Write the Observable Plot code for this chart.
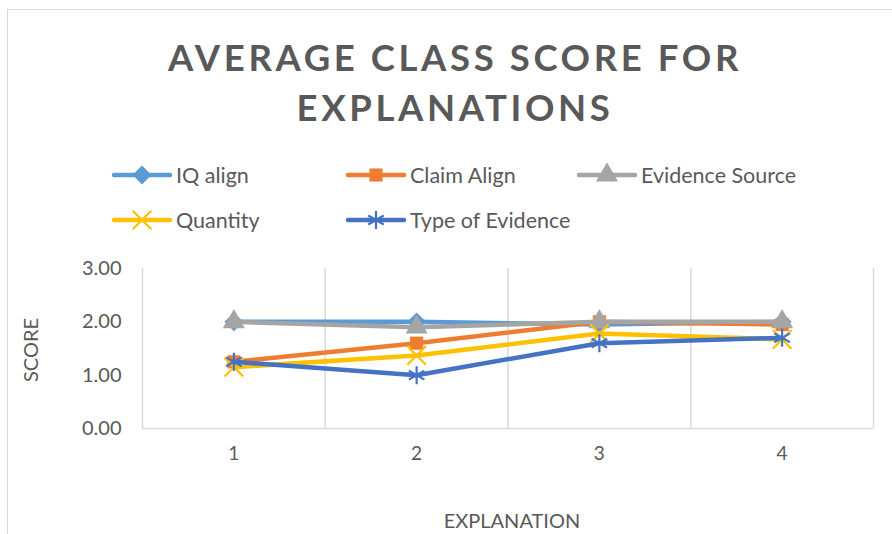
<!DOCTYPE html>
<html>
<head>
<meta charset="utf-8">
<script src="https://cdn.jsdelivr.net/npm/d3@7"></script>
<script src="https://cdn.jsdelivr.net/npm/@observablehq/plot@0.6"></script>
<style>
  html, body { margin: 0; padding: 0; background: #fff; }
  body { width: 892px; height: 534px; position: relative; overflow: hidden; font-family: Lato, "Open Sans", sans-serif; color: #595959; }
  #border { position: absolute; left: 7px; top: 9px; width: 900px; height: 540px; border-top: 1.5px solid #d9d9d9; border-left: 1.5px solid #d9d9d9; }
  #title { position: absolute; left: 0; width: 910px; top: 32px; text-align: center; font-size: 36.5px; font-weight: bold; letter-spacing: 3.6px; line-height: 50px; color: #595959; }
  .leg { position: absolute; display: flex; align-items: center; font-size: 21.5px; color: #595959; white-space: nowrap; }
  .leg svg { margin-right: 3px; }
  #ylab { position: absolute; left: 30px; top: 350px; transform: translate(-50%, -50%) rotate(-90deg); font-size: 20px; }
  #xlab { position: absolute; left: 512px; top: 520px; transform: translate(-50%, -50%); font-size: 20px; }
  #chart { position: absolute; left: 0; top: 240px; }
</style>
</head>
<body>
<div id="border"></div>
<div id="title">AVERAGE CLASS SCORE FOR<br>EXPLANATIONS</div>
<div id="legend"></div>
<div id="ylab">SCORE</div>
<div id="xlab">EXPLANATION</div>
<div id="chart"></div>
<script>
// Data
const explanations = [1, 2, 3, 4];
const seriesNames = ["IQ align", "Claim Align", "Evidence Source", "Quantity", "Type of Evidence"];
const iqAlign = [2.00, 2.00, 1.95, 2.00];
const claimAlign = [1.25, 1.60, 2.00, 1.95];
const evidenceSource = [2.00, 1.90, 2.00, 2.00];
const quantity = [1.15, 1.37, 1.78, 1.67];
const typeOfEvidence = [1.25, 1.00, 1.60, 1.70];
const yTicks = [0, 1, 2, 3];

const seriesValues = [iqAlign, claimAlign, evidenceSource, quantity, typeOfEvidence];
const colors = ["#5B9BD5", "#ED7D31", "#A5A5A5", "#FFC000", "#4472C4"];
const symbols = ["diamond2", "square", "triangle", "times", "asterisk"];
const filled = [true, true, true, false, false];
const symR = [8.5, 7.4, 8.2, 8.5, 8.5];

const rows = seriesNames.flatMap((s, i) =>
  explanations.map((e, j) => ({series: s, explanation: e, score: seriesValues[i][j]}))
);

// Band boundaries for vertical gridlines
const boundaries = [explanations[0] - 0.5, ...explanations.map(e => e + 0.5)];

const marks = [
  Plot.ruleX(boundaries, {stroke: "#d9d9d9", strokeWidth: 1.5}),
  Plot.ruleY([0], {stroke: "#d9d9d9", strokeWidth: 1.5}),
  Plot.axisY({ticks: yTicks, tickFormat: d3.format(".2f"), tickSize: 0, tickPadding: 21, fontSize: 20, label: null}),
  Plot.axisX({ticks: explanations, tickFormat: d => String(d), tickSize: 0, tickPadding: 18, fontSize: 19, label: null})
];
seriesNames.forEach((s, i) => {
  const d = rows.filter(r => r.series === s);
  marks.push(Plot.line(d, {x: "explanation", y: "score", stroke: colors[i], strokeWidth: 4.5, strokeLinejoin: "round", strokeLinecap: "round"}));
  marks.push(Plot.dot(d, filled[i]
    ? {x: "explanation", y: "score", symbol: symbols[i], fill: colors[i], stroke: "none", r: symR[i]}
    : {x: "explanation", y: "score", symbol: symbols[i], stroke: colors[i], strokeWidth: 2.2, fill: "none", r: symR[i]}));
});

const chart = Plot.plot({
  width: 892,
  height: 294,
  marginLeft: 142,
  marginRight: 19,
  marginTop: 28,
  marginBottom: 106,
  style: {fontFamily: "Lato, 'Open Sans', sans-serif", color: "#595959", background: "transparent"},
  x: {type: "linear", domain: [boundaries[0], boundaries[boundaries.length - 1]]},
  y: {domain: [yTicks[0], yTicks[yTicks.length - 1]]},
  marks
});
document.getElementById("chart").appendChild(chart);

// Legend
const legPos = [
  {left: 111, top: 175}, {left: 345, top: 175}, {left: 576, top: 175},
  {left: 111, top: 220}, {left: 345, top: 220}
];
const symMap = {diamond2: d3.symbolDiamond2, square: d3.symbolSquare, triangle: d3.symbolTriangle, times: d3.symbolTimes, asterisk: d3.symbolAsterisk};
const legend = document.getElementById("legend");
seriesNames.forEach((s, i) => {
  const item = document.createElement("div");
  item.className = "leg";
  item.style.left = legPos[i].left + "px";
  item.style.top = (legPos[i].top - 14) + "px";
  item.style.height = "28px";
  const w = 62, h = 24;
  const path = d3.symbol(symMap[symbols[i]], Math.PI * symR[i] * symR[i])();
  const fillAttr = filled[i] ? `fill="${colors[i]}" stroke="none"` : `fill="none" stroke="${colors[i]}" stroke-width="2.2"`;
  item.innerHTML = `<svg width="${w}" height="${h}"><line x1="3" x2="${w - 3}" y1="${h / 2}" y2="${h / 2}" stroke="${colors[i]}" stroke-width="4.5" stroke-linecap="round"/><path d="${path}" transform="translate(${w / 2},${h / 2})" ${fillAttr}/></svg><span>${s}</span>`;
  legend.appendChild(item);
});
</script>
</body>
</html>
